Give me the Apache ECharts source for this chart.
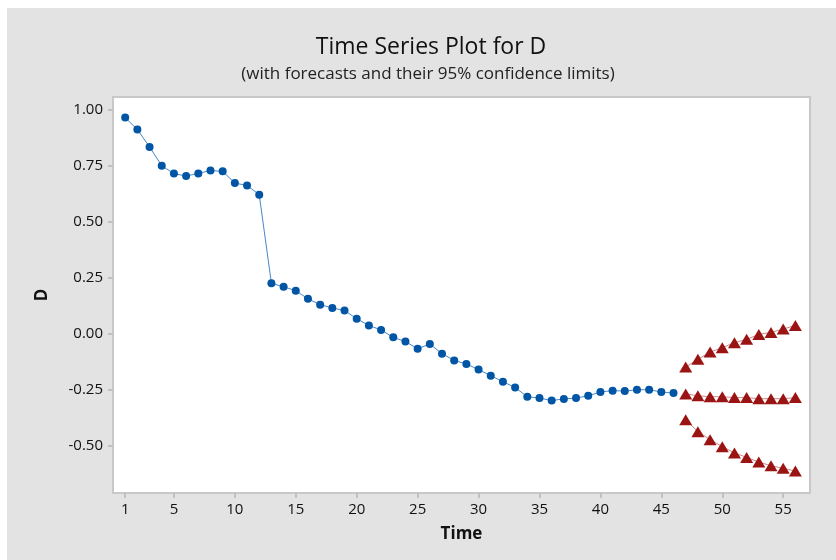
<!DOCTYPE html>
<html>
<head>
    <meta charset="UTF-8">
    <title>Time Series Plot for D</title>
    <script src="https://cdn.jsdelivr.net/npm/echarts@6.0.0/dist/echarts.min.js"></script>
    <style>
        body { margin: 0; background: #fff; }
        #main { width: 836px; height: 560px; }
    </style>
</head>
<body>
    <div id="main"></div>
    <script type="text/javascript">
        // observed values, time 1..46
        var observed = [0.967, 0.914, 0.836, 0.752, 0.717, 0.706, 0.718, 0.731, 0.727, 0.675,
            0.664, 0.623, 0.227, 0.212, 0.194, 0.158, 0.132, 0.117, 0.106, 0.069,
            0.039, 0.019, -0.014, -0.033, -0.065, -0.044, -0.087, -0.117, -0.133, -0.158,
            -0.185, -0.212, -0.238, -0.279, -0.285, -0.296, -0.289, -0.285, -0.275, -0.258,
            -0.252, -0.254, -0.248, -0.248, -0.258, -0.263];
        // forecasts and 95% limits, time 47..56
        var forecast = [-0.267, -0.275, -0.279, -0.279, -0.283, -0.283, -0.288, -0.288, -0.288, -0.283];
        var upper = [-0.147, -0.112, -0.080, -0.060, -0.038, -0.023, -0.001, 0.008, 0.023, 0.039];
        var lower = [-0.382, -0.435, -0.471, -0.502, -0.530, -0.550, -0.571, -0.587, -0.599, -0.611];
        var xTicks = [1, 5, 10, 15, 20, 25, 30, 35, 40, 45, 50, 55];
        var yTicks = [-0.5, -0.25, 0, 0.25, 0.5, 0.75, 1.0];

        function pairs(vals, start) {
            return vals.map(function (v, i) { return [start + i, v]; });
        }

        var font = 'Open Sans';
        var myChart = echarts.init(document.getElementById('main'));

        var option = {
            backgroundColor: '#ffffff',
            animation: false,
            graphic: [
                { type: 'rect', z: -10, shape: { x: 7, y: 8, width: 829, height: 552 }, style: { fill: '#e3e3e3' } },
                { type: 'text', x: 431, y: 47, style: { text: 'Time Series Plot for D', fontFamily: font, fontSize: 23, fill: '#111', align: 'center', verticalAlign: 'middle' } },
                { type: 'text', x: 428, y: 74, style: { text: '(with forecasts and their 95% confidence limits)', fontFamily: font, fontSize: 17, fill: '#222', align: 'center', verticalAlign: 'middle' } }
            ],
            grid: {
                show: true, left: 113, top: 97, right: 26, bottom: 67,
                backgroundColor: '#ffffff', borderColor: '#c8c8c8', borderWidth: 2
            },
            xAxis: {
                type: 'value', min: 0, max: 57.2,
                name: 'Time', nameLocation: 'middle', nameGap: 33,
                nameTextStyle: { fontFamily: font, fontSize: 17, fontWeight: 'bold', color: '#111' },
                axisLine: { show: false, onZero: false },
                axisTick: { show: true, length: 5, lineStyle: { color: '#c0c0c0', width: 2 }, customValues: xTicks },
                axisLabel: { fontFamily: font, fontSize: 15, color: '#111', margin: 9, customValues: xTicks },
                splitLine: { show: false }
            },
            yAxis: {
                type: 'value', min: -0.709, max: 1.059,
                name: 'D', nameLocation: 'middle', nameGap: 62, nameRotate: 90,
                nameTextStyle: { fontFamily: font, fontSize: 17, fontWeight: 'bold', color: '#111' },
                axisLine: { show: false, onZero: false },
                axisTick: { show: true, length: 5, lineStyle: { color: '#c0c0c0', width: 2 }, customValues: yTicks },
                axisLabel: {
                    fontFamily: font, fontSize: 15, color: '#111', margin: 10, customValues: yTicks,
                    formatter: function (v) { return v.toFixed(2); }
                },
                splitLine: { show: false }
            },
            series: [
                {
                    name: 'D', type: 'line', data: pairs(observed, 1),
                    symbol: 'circle', symbolSize: 8,
                    itemStyle: { color: '#0055a5' },
                    lineStyle: { color: '#4a86c8', width: 1 }
                },
                {
                    name: 'Forecast', type: 'line', data: pairs(forecast, 47),
                    symbol: 'triangle', symbolSize: [13, 11],
                    itemStyle: { color: '#9b1414' },
                    lineStyle: { color: '#d08888', width: 1 }
                },
                {
                    name: 'Upper', type: 'line', data: pairs(upper, 47),
                    symbol: 'triangle', symbolSize: [13, 11],
                    itemStyle: { color: '#9b1414' },
                    lineStyle: { color: '#d08888', width: 1 }
                },
                {
                    name: 'Lower', type: 'line', data: pairs(lower, 47),
                    symbol: 'triangle', symbolSize: [13, 11],
                    itemStyle: { color: '#9b1414' },
                    lineStyle: { color: '#d08888', width: 1 }
                }
            ]
        };

        myChart.setOption(option);
    </script>
</body>
</html>
